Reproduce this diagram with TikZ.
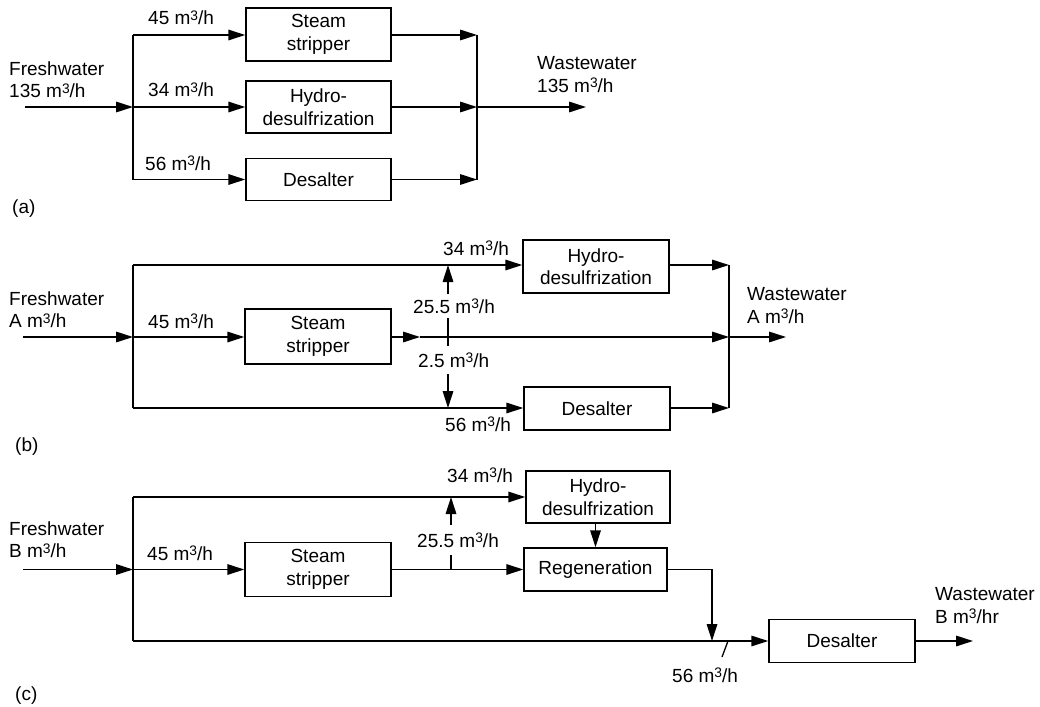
\documentclass[tikz,border=0pt]{standalone}
\usepackage{fontspec}
\setmainfont{Liberation Sans}
\usetikzlibrary{arrows.meta}
\newcommand\mcube{m\raisebox{4.5pt}{\fontsize{13.8}{13.8}\selectfont 3}}
\begin{document}
\begin{tikzpicture}[x=1pt,y=-1pt,
  every node/.style={font=\fontsize{19}{22.5}\selectfont},
  unit/.style={draw, line width=1.4pt, inner sep=0pt, align=center},
  lbl/.style={inner sep=0pt, anchor=base west},
  lbl2/.style={inner sep=0pt, anchor=north west, align=left},
  flow/.style={line width=1.6pt},
  arr/.style={flow, -{Triangle[length=17pt,width=10.5pt]}},
]
\useasboundingbox (0,0) rectangle (1040,706);

% ---------------- (a)
\node[unit, minimum width=145pt, minimum height=53pt] (ssa) at (318.5,34.5) {Steam\\stripper};
\node[unit, minimum width=145pt, minimum height=52pt] (hda) at (318.5,107) {Hydro-\\desulfrization};
\node[unit, minimum width=145pt, minimum height=42pt] (dsa) at (318.5,179.5) {Desalter};
\coordinate (ina) at (25,107);
\coordinate (sa) at (133,107);
\coordinate (sa1) at (133,35);
\coordinate (sa3) at (133,179.5);
\coordinate (ma1) at (477,35);
\coordinate (ma2) at (477,107);
\coordinate (ma3) at (477,179.5);
\coordinate (outa) at (586,107);
\draw[arr] (ina) -- (sa);
\draw[flow] (sa1) -- (sa3);
\draw[arr] (sa1) -- (sa1 -| ssa.west);
\draw[arr] (sa) -- (sa -| hda.west);
\draw[arr] (sa3) -- (sa3 -| dsa.west);
\draw[arr] (ssa.east |- ma1) -- (ma1);
\draw[arr] (hda.east |- ma2) -- (ma2);
\draw[arr] (dsa.east |- ma3) -- (ma3);
\draw[flow] (ma1) -- (ma3);
\draw[arr] (ma2) -- (outa);
\node[lbl] (la45) at (148,25) {45 \mcube/h};
\node[lbl] (la34) at (148,97) {34 \mcube/h};
\node[lbl] (la56) at (145,170) {56 \mcube/h};
\node[lbl2] (fwa) at (9,61.5) {Freshwater\\135 \mcube/h};
\node[lbl2] (wwa) at (537,56.5) {Wastewater\\135 \mcube/h};
\node[lbl2] (capa) at (12,200) {(a)};

% ---------------- (b)
\node[unit, minimum width=146pt, minimum height=53pt] (hdb) at (596,266.5) {Hydro-\\desulfrization};
\node[unit, minimum width=146pt, minimum height=55pt] (ssb) at (318,336.5) {Steam\\stripper};
\node[unit, minimum width=146pt, minimum height=43pt] (dsb) at (597,408.5) {Desalter};
\coordinate (inb) at (23,337);
\coordinate (sb) at (133,337);
\coordinate (sb1) at (133,265);
\coordinate (sb3) at (133,408);
\coordinate (kb) at (420,337);
\coordinate (jb1) at (448,265);
\coordinate (jb) at (448,337);
\coordinate (jb3) at (448,408);
\coordinate (mb1) at (729,265);
\coordinate (mb2) at (729,337);
\coordinate (mb3) at (729,408);
\coordinate (outb) at (786,337);
\draw[arr] (inb) -- (sb);
\draw[flow] (sb1) -- (sb3);
\draw[arr] (sb1) -- (sb1 -| hdb.west);
\draw[arr] (sb) -- (sb -| ssb.west);
\draw[arr] (sb3) -- (sb3 -| dsb.west);
\draw[arr] (ssb.east |- kb) -- (kb);
\draw[arr] (kb) -- (mb2);
\draw[arr] (hdb.east |- mb1) -- (mb1);
\draw[arr] (dsb.east |- mb3) -- (mb3);
\draw[flow] (mb1) -- (mb3);
\draw[arr] (mb2) -- (outb);
\node[lbl, inner ysep=5pt] (lb255) at (413,313) {25.5 \mcube/h};
\node[lbl, inner ysep=7pt] (lb25) at (418,367) {2.5 \mcube/h};
\draw[arr] (lb255.north -| jb1) -- (jb1);
\draw[flow] (lb255.south -| jb) -- (lb25.north -| jb);
\draw[arr] (lb25.south -| jb3) -- (jb3);
\node[lbl] (lb34) at (443,255) {34 \mcube/h};
\node[lbl] (lb45) at (148,328) {45 \mcube/h};
\node[lbl] (lb56) at (445,431) {56 \mcube/h};
\node[lbl2] (fwb) at (9,291.5) {Freshwater\\A \mcube/h};
\node[lbl2] (wwb) at (747,287.5) {Wastewater\\A \mcube/h};
\node[lbl2] (capb) at (15,438) {(b)};

% ---------------- (c)
\node[unit, minimum width=144pt, minimum height=52pt] (hdc) at (598,497) {Hydro-\\desulfrization};
\node[unit, minimum width=146pt, minimum height=54pt] (ssc) at (318,569.5) {Steam\\stripper};
\node[unit, minimum width=143pt, minimum height=43pt] (rgc) at (595.5,569.5) {Regeneration};
\node[unit, minimum width=146pt, minimum height=43pt] (dsc) at (842,641) {Desalter};
\coordinate (inc) at (23,569.5);
\coordinate (sc) at (133,569.5);
\coordinate (sc1) at (133,497);
\coordinate (sc3) at (133,641);
\coordinate (jc1) at (451,497);
\coordinate (jc) at (451,569.5);
\coordinate (tc) at (712,569.5);
\coordinate (jc3) at (712,641);
\coordinate (sl1) at (728,641);
\coordinate (sl2) at (722,657);
\coordinate (outc) at (973,641);
\draw[arr] (inc) -- (sc);
\draw[flow] (sc1) -- (sc3);
\draw[arr] (sc1) -- (sc1 -| hdc.west);
\draw[arr] (sc) -- (sc -| ssc.west);
\draw[arr] (ssc.east) -- (rgc.west);
\draw[arr] (sc3) -- (sc3 -| dsc.west);
\node[lbl, inner ysep=8pt] (lc255) at (417,547) {25.5 \mcube/h};
\draw[flow] (jc) -- (lc255.south -| jc);
\draw[arr] (lc255.north -| jc1) -- (jc1);
\draw[arr] (hdc.south -| rgc.north) -- (rgc.north);
\draw[arr] (rgc.east) -- (tc) -- (jc3);
\draw[line width=1.3pt] (sl1) -- (sl2);
\draw[arr] (dsc.east) -- (outc);
\node[lbl] (lc34) at (447,482) {34 \mcube/h};
\node[lbl] (lc45) at (147,560) {45 \mcube/h};
\node[lbl] (lc56) at (672,682) {56 \mcube/h};
\node[lbl2] (fwc) at (9,521.5) {Freshwater\\B \mcube/h};
\node[lbl2] (wwc) at (935,587.5) {Wastewater\\B \mcube/hr};
\node[lbl2] (capc) at (15,687) {(c)};
\end{tikzpicture}
\end{document}
